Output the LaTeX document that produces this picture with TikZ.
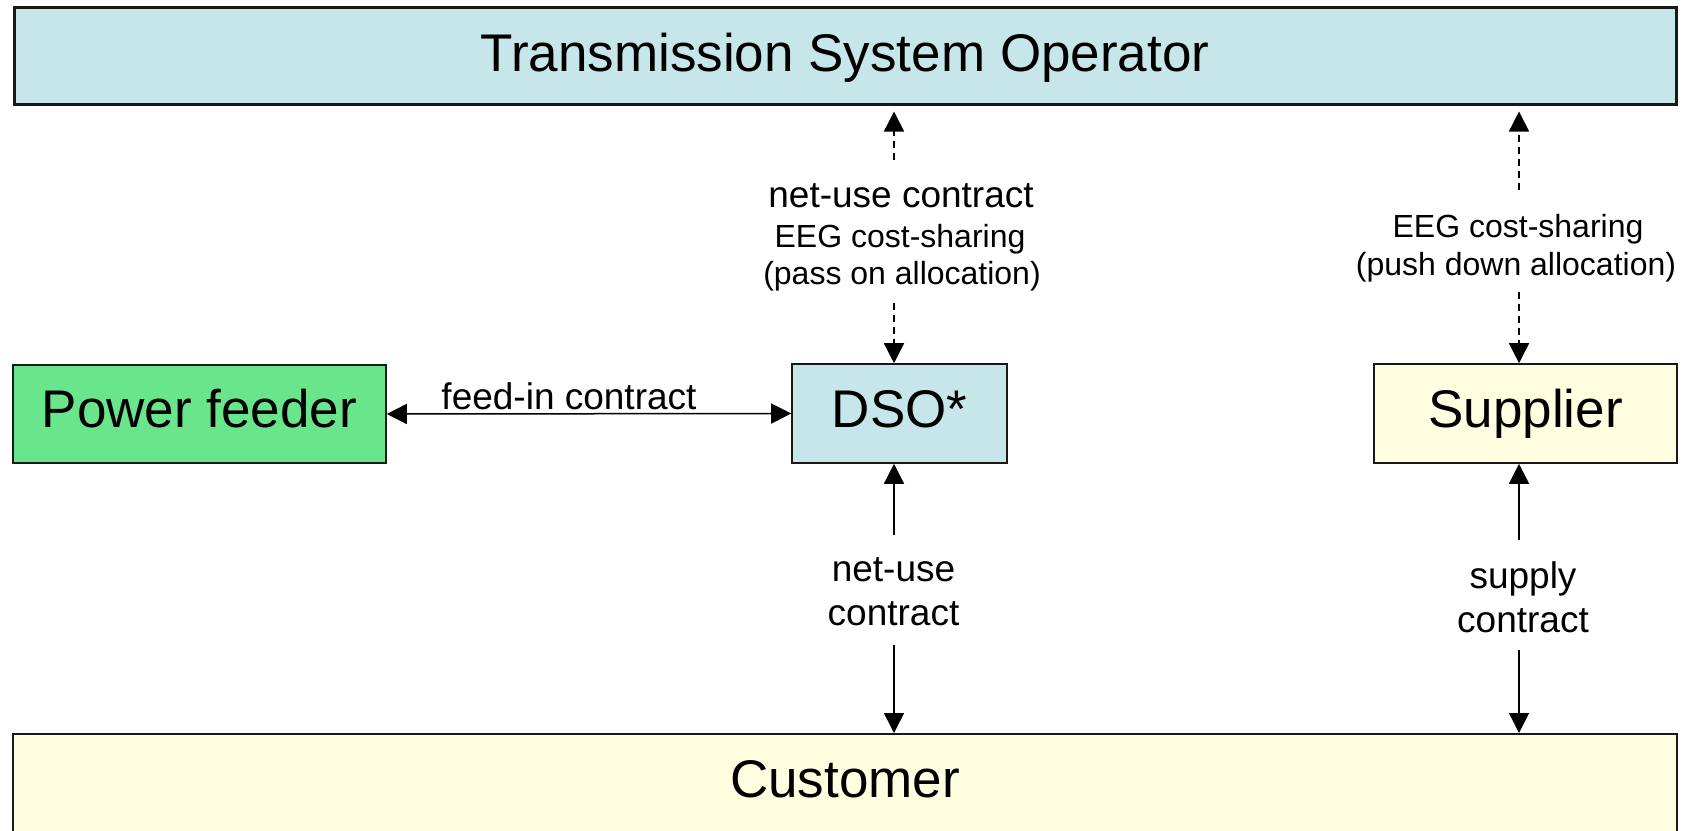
\documentclass[tikz,border=0pt]{standalone}
\usepackage{fontspec}
\setmainfont{Liberation Sans}
\usetikzlibrary{arrows.meta}
\definecolor{tsoblue}{RGB}{198,230,233}
\definecolor{feedgreen}{RGB}{105,230,140}
\definecolor{custyellow}{RGB}{255,254,224}
\definecolor{edge}{RGB}{25,25,25}

\begin{document}
\begin{tikzpicture}[x=0.5pt,y=-0.5pt,
  party/.style={draw=edge,line width=0.8pt,rectangle,inner sep=0pt,
    font=\fontsize{26.5}{30}\selectfont},
  big/.style={font=\fontsize{18.5}{22}\selectfont},
  small/.style={font=\fontsize{16}{19}\selectfont},
  link/.style={line width=0.75pt,draw=black},
  tip/.style={-{Triangle[length=10pt,width=10pt]}},
  dtip/.style={{Triangle[length=10pt,width=10pt]}-{Triangle[length=10pt,width=10pt]}},
  dsh/.style={link,dash pattern=on 3.5pt off 2.5pt}]
\useasboundingbox (0,0) rectangle (1690,830);

% parties
\node[party,line width=1.5pt,fill=tsoblue,minimum width=831pt,minimum height=48.5pt,
      text height=17.5pt,text depth=1.5pt] (tso) at (845,55.5) {Transmission System Operator};
\node[party,fill=feedgreen,minimum width=186.5pt,minimum height=49pt,
      text height=14pt,text depth=1pt] (feeder) at (199.5,414) {Power feeder};
\node[party,fill=tsoblue,minimum width=107.5pt,minimum height=49.5pt,
      text height=14.5pt,text depth=1pt] (dso) at (899.5,413.5) {DSO*};
\node[party,fill=custyellow,minimum width=151.5pt,minimum height=49.5pt,
      text height=14.5pt,text depth=1pt] (supplier) at (1525.5,413.5) {Supplier};
\node[party,fill=custyellow,minimum width=832pt,text height=32pt,text depth=42pt,
      anchor=north] (customer) at (845,733) {Customer};

% feed-in contract
\node[big,anchor=base] (feedlab) at (569,409) {feed-in contract};
\draw[link,dtip] (feeder.east) -- (dso.west);

% DSO -- TSO
\node[big,anchor=base] (nu1) at (901,207) {net-use contract};
\node[small,anchor=base] (eeg1) at (900,247) {EEG cost-sharing};
\node[small,anchor=base] (pass1) at (902,284) {(pass on allocation)};
\coordinate (d1a) at (894,160);
\coordinate (d1b) at (894,303);
\draw[dsh,tip,shorten >=3pt] (d1a) -- (d1a |- tso.south);
\draw[dsh,tip] (d1b) -- (d1b |- dso.north);

% Supplier -- TSO
\node[small,anchor=base] (eeg2) at (1518,237) {EEG cost-sharing};
\node[small,anchor=base] (push2) at (1516,275) {(push down allocation)};
\coordinate (d2a) at (1519,190);
\coordinate (d2b) at (1519,292);
\draw[dsh,tip,shorten >=3pt] (d2a) -- (d2a |- tso.south);
\draw[dsh,tip] (d2b) -- (d2b |- supplier.north);

% DSO -- Customer
\node[big,align=center] (nu2) at (893.5,592) {net-use\\contract};
\coordinate (s1a) at (894,535);
\coordinate (s1b) at (894,645);
\draw[link,tip] (s1a) -- (s1a |- dso.south);
\draw[link,tip] (s1b) -- (s1b |- customer.north);

% Supplier -- Customer
\node[big,align=center] (sup2) at (1523,597) {supply\\contract};
\coordinate (s2a) at (1519,540);
\coordinate (s2b) at (1519,650);
\draw[link,tip] (s2a) -- (s2a |- supplier.south);
\draw[link,tip] (s2b) -- (s2b |- customer.north);
\end{tikzpicture}
\end{document}
